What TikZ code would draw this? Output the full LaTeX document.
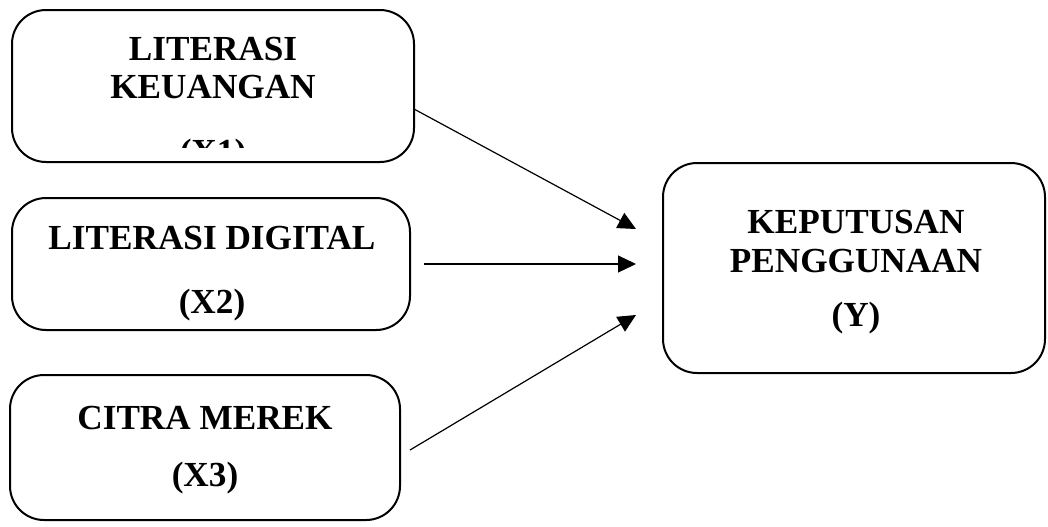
\documentclass[tikz,border=0pt]{standalone}
\usepackage{fontspec}
\setmainfont{Liberation Serif}
\usetikzlibrary{arrows.meta}

\begin{document}
\begin{tikzpicture}[
    x=0.5pt, y=-0.5pt,
    box/.style={draw, rounded corners=17pt, line width=1pt, inner sep=0pt},
    lbl/.style={anchor=base, inner sep=0pt, font=\fontsize{17.6}{20}\selectfont\bfseries},
    arr/.style={-{Triangle[length=9pt, width=8.5pt]}, line width=0.6pt}
]
\useasboundingbox (0,0) rectangle (1048,526);

\node[box, minimum width=201pt, minimum height=76pt] (X1) at (213,86) {};
\node[box, minimum width=199pt, minimum height=66pt] (X2) at (211,264) {};
\node[box, minimum width=195pt, minimum height=72.5pt] (X3) at (205,447.5) {};
\node[box, minimum width=191pt, minimum height=105pt] (Y) at (854,268) {};

\node[lbl] (X1a) at (213,60) {LITERASI};
\node[lbl] (X1b) at (213,98) {KEUANGAN};
\begin{scope}
  \clip (0,0) rectangle (1048,147);
  \node[lbl] (X1c) at (213,163) {(X1)};
\end{scope}

\node[lbl] (X2a) at (212,249) {LITERASI DIGITAL};
\node[lbl] (X2b) at (212,313) {(X2)};

\node[lbl] (X3a) at (205,429) {CITRA MEREK};
\node[lbl] (X3b) at (205,486) {(X3)};

\node[lbl] (Ya) at (856,233) {KEPUTUSAN};
\node[lbl] (Yb) at (856,272) {PENGGUNAAN};
\node[lbl] (Yc) at (856,326) {(Y)};

% arrows
\coordinate (s1) at (414,109);
\coordinate (e1) at (636,229);
\coordinate (s2) at (424,264);
\coordinate (e2) at (636,264);
\coordinate (s3) at (410,450);
\coordinate (e3) at (636,315);
\draw[arr] (s1) -- (e1);
\draw[arr] (s2) -- (e2);
\draw[arr] (s3) -- (e3);

\end{tikzpicture}
\end{document}
